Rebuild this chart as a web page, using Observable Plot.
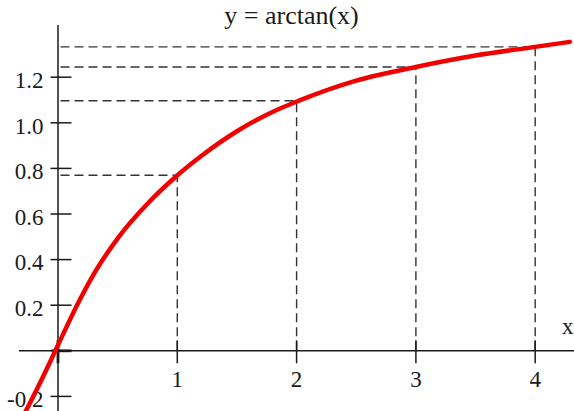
<!DOCTYPE html>
<html>
<head>
<meta charset="utf-8">
<script src="https://cdn.jsdelivr.net/npm/d3@7"></script>
<script src="https://cdn.jsdelivr.net/npm/@observablehq/plot@0.6"></script>
<style>
  html, body { margin: 0; padding: 0; background: #fff; }
  #chart svg { display: block; }
</style>
</head>
<body>
<div id="chart"></div>
<script>
// ---- data ----
const title = "y = arctan(x)";
const axisLabelX = "x";
const curveX = [-0.3, -0.15, 0, 0.15, 0.31, 0.51, 0.75, 0.98, 1.22, 1.5, 1.78, 2.02, 2.5, 3, 3.5, 4, 4.29];
const curveY = [-0.295, -0.14, 0.025, 0.19, 0.345, 0.5, 0.645, 0.76, 0.862, 0.963, 1.043, 1.097, 1.185, 1.245, 1.295, 1.333, 1.355];
const markX = [1, 2, 3, 4];
const markY = [0.77, 1.097, 1.245, 1.333];
const xTicks = [1, 2, 3, 4];
const xTickLabels = ["1", "2", "3", "4"];
const yTicks = [-0.2, 0.2, 0.4, 0.6, 0.8, 1.0, 1.2];
const yTickLabels = ["-0.2", "0.2", "0.4", "0.6", "0.8", "1.0", "1.2"];

const curve = curveX.map((x, i) => ({x, y: curveY[i]}));
const marks = markX.map((x, i) => ({x, y: markY[i]}));
const xt = xTicks.map((v, i) => ({v, label: xTickLabels[i]}));
const yt = yTicks.map((v, i) => ({v, label: yTickLabels[i]}));

const font = "Liberation Serif, Times New Roman, serif";
const ink = "#1a1a1a";
const xDomain = [-0.482, 4.3295];
const yDomain = [-0.2662, 1.5364];

const chart = Plot.plot({
  width: 574,
  height: 411,
  margin: 0,
  style: {background: "#fff", fontFamily: font},
  x: {domain: xDomain, axis: null},
  y: {domain: yDomain, axis: null},
  marks: [
    // dashed guides
    Plot.ruleX(marks, {x: "x", y1: 0, y2: "y", stroke: "#333", strokeWidth: 1.4, strokeDasharray: "9,5"}),
    Plot.ruleY(marks, {y: "y", x1: 0, x2: "x", stroke: "#333", strokeWidth: 1.4, strokeDasharray: "9,5", insetLeft: 3}),
    // axes
    Plot.ruleY([0], {x1: xDomain[0], x2: xDomain[1], insetLeft: 19, stroke: ink, strokeWidth: 1.5}),
    Plot.ruleX([0], {y1: yDomain[1], y2: yDomain[0], insetTop: 25, stroke: ink, strokeWidth: 1.5}),
    // ticks
    Plot.ruleX(xt, {x: "v", y1: 0, y2: 0, insetTop: -10, insetBottom: -13, stroke: ink, strokeWidth: 1.5}),
    Plot.ruleY(yt, {y: "v", x1: 0, x2: 0, insetLeft: -7, insetRight: -14, stroke: ink, strokeWidth: 1.5}),
    Plot.ruleX([0], {x: d => d, y1: 0, y2: 0, insetTop: -10, insetBottom: -13, stroke: ink, strokeWidth: 2.8}),
    Plot.ruleY([0], {y: d => d, x1: 0, x2: 0, insetLeft: -6, insetRight: -14, stroke: ink, strokeWidth: 2.8}),
    // tick labels
    Plot.text(xt, {x: "v", y: 0, text: "label", dy: 28.5, fontSize: 23, fontFamily: font, fill: ink}),
    Plot.text(yt, {y: "v", x: 0, text: "label", dx: -14.5, dy: 3.5, textAnchor: "end", fontSize: 23, fontFamily: font, fill: ink}),
    Plot.text([axisLabelX], {x: xDomain[1], y: 0, text: d => d, textAnchor: "end", dx: -1, dy: -24, fontSize: 23, fontFamily: font, fill: ink}),
    // curve
    Plot.line(curve, {x: "x", y: "y", curve: "monotone-x", stroke: "#f20000", strokeWidth: 4.5}),
    // title
    Plot.text([title], {frameAnchor: "top", lineAnchor: "middle", text: d => d, dx: 4, dy: 15, fontSize: 26, fontFamily: font, fill: ink})
  ]
});
document.getElementById("chart").appendChild(chart);
</script>
</body>
</html>
